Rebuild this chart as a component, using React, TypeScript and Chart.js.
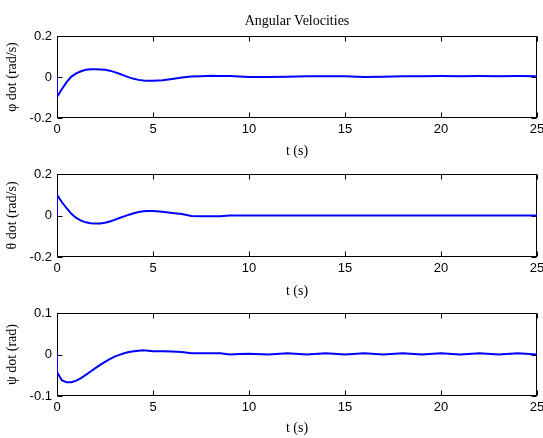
import React, { useEffect, useRef } from "react";
import { Chart, registerables } from "chart.js";

Chart.register(...registerables);

// ---- data ----
const timeS = [
  0, 0, 0.25, 0.5, 0.75, 1, 1.25, 1.5, 1.75, 2, 2.25, 2.5, 2.75, 3, 3.25, 3.5, 3.75, 4, 4.25, 4.5, 4.75, 5,
  5.5, 6, 6.5, 7, 7.5, 8, 8.5, 9, 9.5, 10,
  11, 12, 13, 14, 15, 16, 17, 18, 19, 20, 21, 22, 23, 24, 25,
];
const phiDot = [
  0, -0.097, -0.06, -0.025, 0.002, 0.018, 0.028, 0.035, 0.038, 0.038, 0.037, 0.035, 0.031, 0.024, 0.016, 0.007, -0.002, -0.009, -0.014, -0.017, -0.018, -0.018,
  -0.016, -0.01, -0.003, 0.002, 0.004, 0.006, 0.005, 0.005, 0.002, 0.0,
  0.0, 0.001, 0.004, 0.004, 0.004, 0.0, 0.001, 0.004, 0.004, 0.005, 0.004, 0.005, 0.004, 0.005, 0.004,
];
const thetaDot = [
  0, 0.1, 0.065, 0.035, 0.008, -0.012, -0.025, -0.033, -0.037, -0.038, -0.038, -0.035, -0.029, -0.021, -0.012, -0.004, 0.004, 0.011, 0.017, 0.02, 0.022, 0.022,
  0.018, 0.012, 0.007, -0.002, -0.004, -0.004, -0.004, 0.0, 0.0, 0.0,
  0, 0, 0, 0, 0, 0, 0, 0, 0, 0, 0, 0, 0, 0, 0,
];
const psiDot = [
  0, -0.042, -0.062, -0.067, -0.067, -0.063, -0.057, -0.049, -0.041, -0.033, -0.025, -0.018, -0.011, -0.005, -0.001, 0.003, 0.006, 0.008, 0.009, 0.01, 0.009, 0.008,
  0.008, 0.007, 0.006, 0.003, 0.003, 0.003, 0.003, 0.0, 0.001, 0.002,
  0.0, 0.003, 0.0, 0.003, 0.0, 0.003, 0.0, 0.003, 0.0, 0.003, 0.0, 0.003, 0.0, 0.003, 0.0,
];
const xTicks = [0, 5, 10, 15, 20, 25];
const yTicksRate = [-0.2, 0, 0.2];
const yTicksPsi = [-0.1, 0, 0.1];
const yTitles = ["\u03C6 dot (rad/s)", "\u03B8 dot (rad/s)", "\u03C8 dot (rad)"];
const xTitle = "t (s)";
const chartTitle = "Angular Velocities";

// ---- styling ----
const W = 543;
const AREA_LEFT = 57;
const AREA_RIGHT = 537;
const TICK_FONT = { family: "'Liberation Sans', Arial, Helvetica, sans-serif", size: 13 };
const SERIF_SIZE = 14;
const SERIF_FONT = { family: "'Liberation Serif', 'Times New Roman', serif", size: SERIF_SIZE };
const LINE_H = SERIF_SIZE * 1.2;

const boxPlugin = {
  id: "matlabBox",
  beforeDatasetsDraw(chart: any) {
    const { ctx, chartArea, scales } = chart;
    const L = Math.round(chartArea.left) + 0.5;
    const R = Math.round(chartArea.right) - 0.5;
    const T = Math.round(chartArea.top) + 0.5;
    const B = Math.round(chartArea.bottom) - 0.5;
    ctx.save();
    ctx.strokeStyle = "#000";
    ctx.lineWidth = 1;
    ctx.strokeRect(L, T, R - L, B - T);
    const len = 5;
    ctx.beginPath();
    for (const t of scales.x.ticks) {
      const px = Math.round(scales.x.getPixelForValue(t.value)) + 0.5;
      ctx.moveTo(px, B);
      ctx.lineTo(px, B - len);
      ctx.moveTo(px, T);
      ctx.lineTo(px, T + len);
    }
    for (const t of scales.y.ticks) {
      const py = Math.round(scales.y.getPixelForValue(t.value)) + 0.5;
      ctx.moveTo(L, py);
      ctx.lineTo(L + len, py);
      ctx.moveTo(R, py);
      ctx.lineTo(R - len, py);
    }
    ctx.stroke();
    ctx.restore();
  },
};

type PanelProps = {
  top: number;
  height: number;
  areaTop: number;
  areaBottom: number;
  xTitleY: number;
  values: number[];
  yTicks: number[];
  yTitle: string;
  title?: string;
};

function Panel(props: PanelProps) {
  const ref = useRef<HTMLCanvasElement | null>(null);
  useEffect(() => {
    const { height, areaTop, areaBottom, xTitleY, values, yTicks, yTitle, title } = props;
    const hasTitle = !!title;
    const titlePadTop = 21 - LINE_H / 2;
    const titlePadBottom = areaTop - titlePadTop - LINE_H;
    const chart = new Chart(ref.current as HTMLCanvasElement, {
      type: "line",
      data: {
        datasets: [
          {
            data: timeS.map((t, i) => ({ x: t, y: values[i] })),
            borderColor: "#0000ff",
            borderWidth: 2,
            pointRadius: 0,
            fill: false,
            tension: 0,
          },
        ],
      },
      options: {
        responsive: false,
        animation: false,
        layout: {
          padding: { left: 0, right: W - AREA_RIGHT, top: hasTitle ? 0 : areaTop, bottom: 0 },
        },
        plugins: {
          legend: { display: false },
          tooltip: { enabled: false },
          title: {
            display: hasTitle,
            text: title || "",
            fullSize: false,
            color: "#000",
            font: { ...SERIF_FONT, weight: "normal" },
            padding: { top: titlePadTop, bottom: titlePadBottom },
          },
        },
        scales: {
          x: {
            type: "linear",
            min: 0,
            max: 25,
            grid: { display: false, drawTicks: false },
            border: { display: false },
            ticks: {
              color: "#000",
              font: TICK_FONT,
              padding: 4,
              maxRotation: 0,
              autoSkip: false,
              callback: (v: any) => String(v),
            },
            afterBuildTicks: (s: any) => {
              s.ticks = xTicks.map((value) => ({ value }));
            },
            afterFit: (s: any) => {
              s.height = height - areaBottom;
              s.paddingLeft = 0;
              s.paddingRight = 0;
            },
            title: {
              display: true,
              text: xTitle,
              color: "#000",
              font: SERIF_FONT,
              padding: { top: 0, bottom: height - xTitleY - LINE_H / 2 },
            },
          },
          y: {
            type: "linear",
            min: yTicks[0],
            max: yTicks[yTicks.length - 1],
            grid: { display: false, drawTicks: false },
            border: { display: false },
            ticks: {
              color: "#000",
              font: TICK_FONT,
              padding: 5,
              autoSkip: false,
              callback: (v: any) => String(v),
            },
            afterBuildTicks: (s: any) => {
              s.ticks = yTicks.map((value) => ({ value }));
            },
            afterFit: (s: any) => {
              s.width = AREA_LEFT;
              s.paddingTop = 0;
              s.paddingBottom = 0;
            },
            title: {
              display: true,
              text: yTitle,
              color: "#000",
              font: SERIF_FONT,
              padding: { top: 4, bottom: 0 },
            },
          },
        },
      },
      plugins: [boxPlugin],
    } as any);
    return () => chart.destroy();
  }, []);
  return (
    <canvas
      ref={ref}
      width={W}
      height={props.height}
      style={{ position: "absolute", left: 0, top: props.top, width: W, height: props.height }}
    />
  );
}

export default function App() {
  return (
    <div style={{ position: "absolute", left: 0, top: 0, width: W, height: 438, background: "#fff" }}>
      <Panel top={0} height={160} areaTop={36} areaBottom={118} xTitleY={151} values={phiDot} yTicks={yTicksRate} yTitle={yTitles[0]} title={chartTitle} />
      <Panel top={160} height={140} areaTop={14} areaBottom={97} xTitleY={131} values={thetaDot} yTicks={yTicksRate} yTitle={yTitles[1]} />
      <Panel top={300} height={138} areaTop={13} areaBottom={96} xTitleY={128} values={psiDot} yTicks={yTicksPsi} yTitle={yTitles[2]} />
    </div>
  );
}
